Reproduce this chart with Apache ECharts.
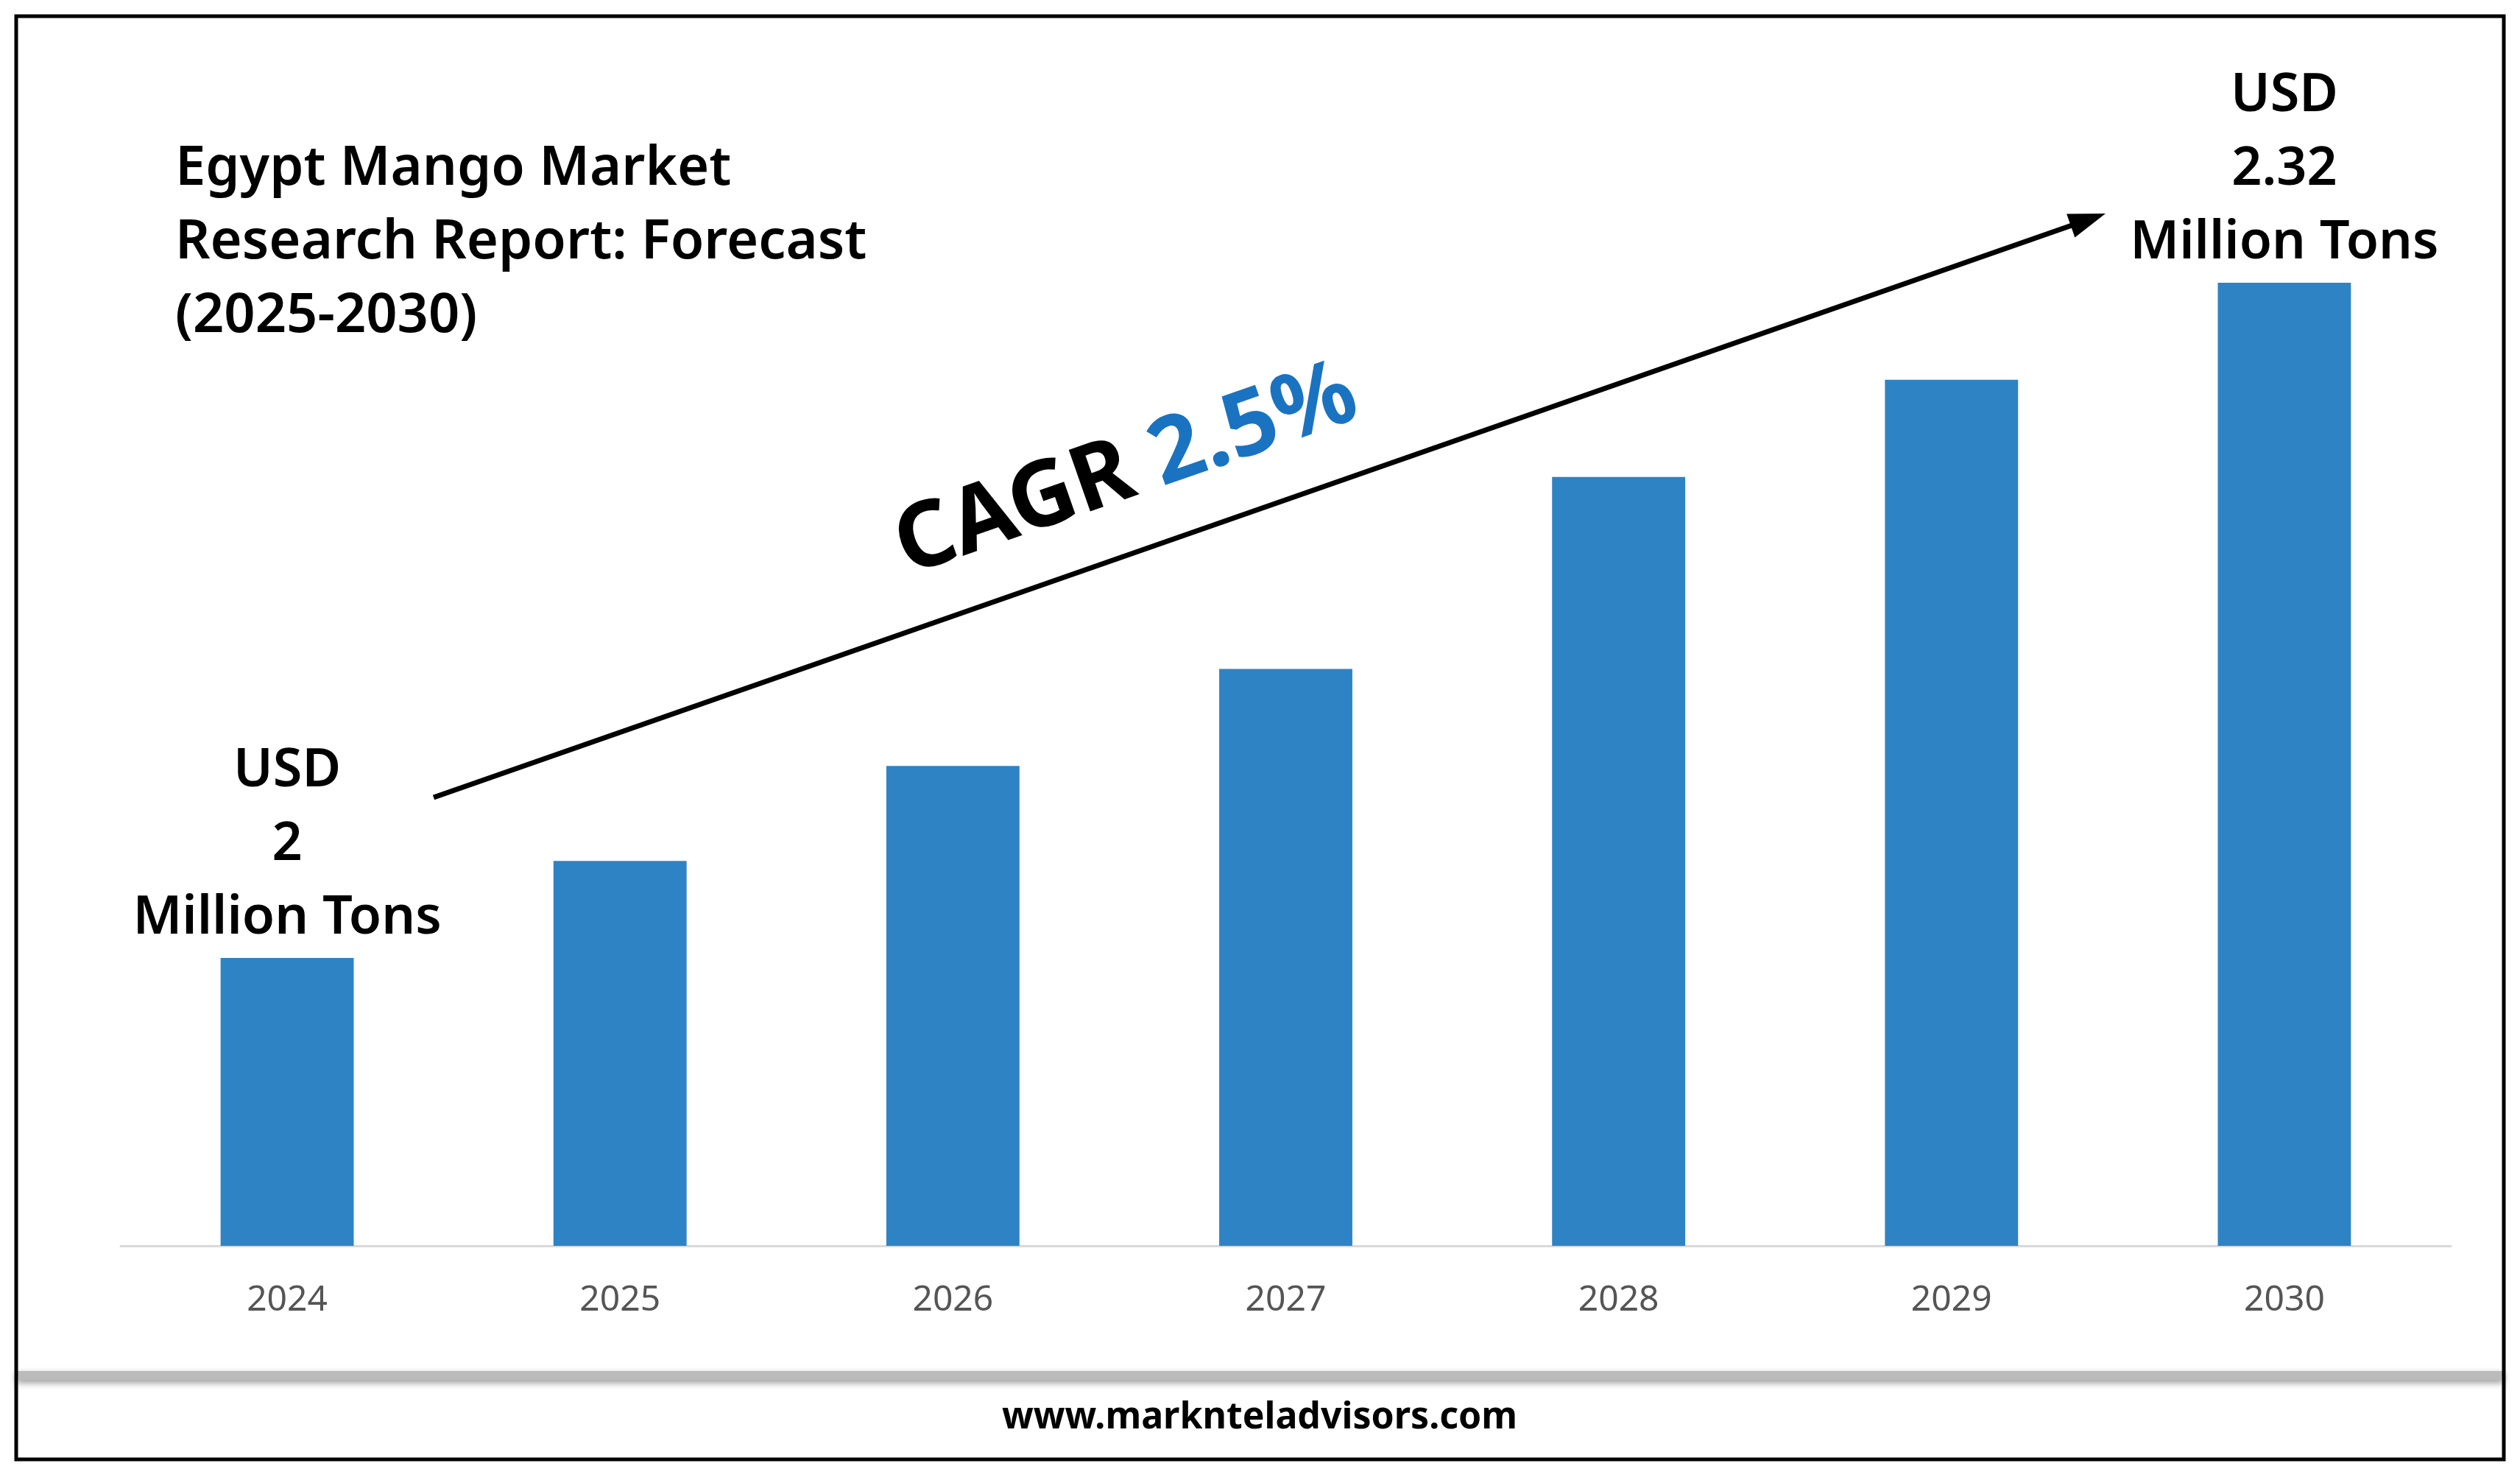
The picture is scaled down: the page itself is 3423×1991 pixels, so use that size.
<!DOCTYPE html>
<html><head><meta charset="utf-8">
<script src="https://cdn.jsdelivr.net/npm/echarts@6/dist/echarts.min.js"></script>
<style>html,body{margin:0;padding:0;background:#fff}#c{width:3423px;height:1991px}</style>
</head><body><div id="c"></div>
<script>
const categories = ['2024','2025','2026','2027','2028','2029','2030'];
const values = [2.00, 2.046, 2.091, 2.137, 2.228, 2.274, 2.32];
const labelTexts = {0:'USD\n2\nMillion Tons', 6:'USD\n2.32\nMillion Tons'};
const chart = echarts.init(document.getElementById('c'));
const font = "'Noto Sans', 'DejaVu Sans', sans-serif";
const data = values.map((v,i)=>{
  const d = {value:v};
  if (labelTexts[i]) d.label = {show:true, position:'top', formatter:labelTexts[i], distance:4,
     fontSize:72, lineHeight:100, color:'#000', fontFamily:font, fontWeight:600, align:'center'};
  return d;
});
const ang = Math.atan2(1083-290, 2860-589);
chart.setOption({
  backgroundColor:'#fff',
  grid:{left:164, right:94, top:384, bottom:299},
  xAxis:{type:'category', data:categories,
    axisLine:{lineStyle:{color:'#d9d9d9', width:3}}, axisTick:{show:false},
    axisLabel:{fontSize:48, color:'#555', margin:50, fontFamily:font}},
  yAxis:{type:'value', min:1.8636, max:2.32, show:false, splitLine:{show:false}},
  series:[{type:'bar', data, barWidth:'40%', itemStyle:{color:'#2e83c4'}, label:{show:false}}],
  graphic:[
    {type:'rect', shape:{x:22,y:22,width:3379,height:1960}, style:{fill:'none', stroke:'#000', lineWidth:5}, z:10},
    {type:'rect', shape:{x:22,y:1862,width:3379,height:12}, style:{fill:'#bbb', shadowBlur:10, shadowColor:'#999', shadowOffsetY:4}},
    {type:'text', x:1711, y:1926, style:{text:'www.marknteladvisors.com', fontSize:50, fontWeight:'bold', fontFamily:font, fill:'#000', textAlign:'center', textVerticalAlign:'middle'}},
    {type:'text', x:238, y:180, style:{text:'Egypt Mango Market\nResearch Report: Forecast\n(2025-2030)', fontSize:74, lineHeight:100, fontWeight:600, fontFamily:font, fill:'#000'}},
    {type:'line', shape:{x1:589,y1:1083,x2:2820,y2:304}, style:{stroke:'#000', lineWidth:7}},
    {type:'polygon', x:2860, y:290, rotation:ang, shape:{points:[[0,0],[-50,-17],[-50,17]]}, style:{fill:'#000'}},
    {type:'text', x:1530, y:640, rotation:ang, style:{
      rich:{a:{fontSize:124, fontWeight:'bold', fontFamily:font, fill:'#000'}, b:{fontSize:124, fontWeight:'bold', fontFamily:font, fill:'#1a73c0'}},
      text:'{a|CAGR }{b|2.5%}', textAlign:'center', textVerticalAlign:'middle'}}
  ]
});
</script></body></html>
